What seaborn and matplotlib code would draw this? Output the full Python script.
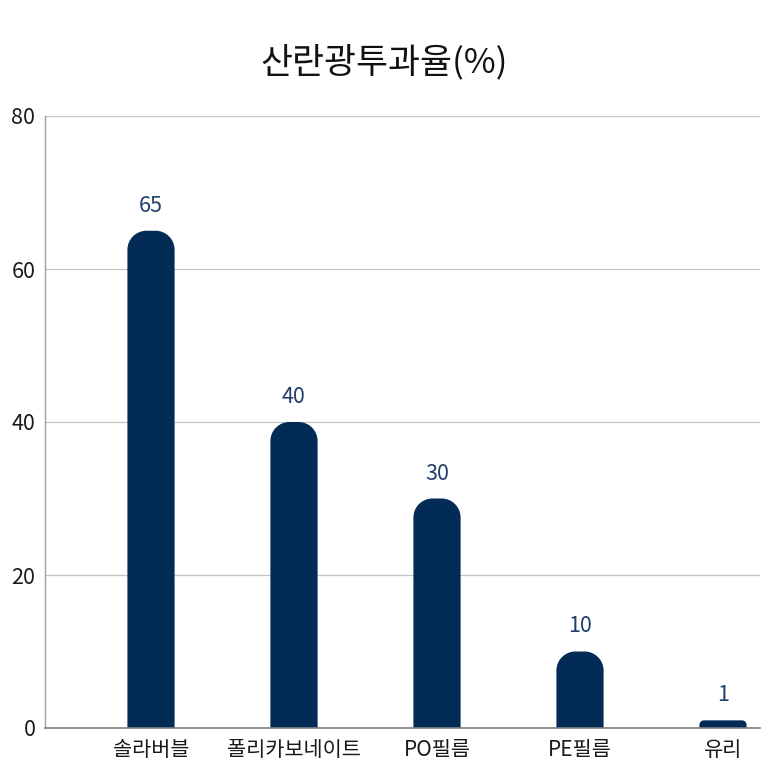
import numpy as np
import pandas as pd
import matplotlib
matplotlib.use("Agg")
import matplotlib.pyplot as plt
from matplotlib.path import Path
from matplotlib.patches import PathPatch
import seaborn as sns

categories = ["솔라버블", "폴리카보네이트", "PO필름", "PE필름", "유리"]
values = [65, 40, 30, 10, 1]
y_ticks = [0, 20, 40, 60, 80]
title = "산란광투과율(%)"

BAR_COLOR = "#022b56"
LABEL_COLOR = "#1d3f6b"

sns.set_theme(style="white")
plt.rcParams["font.family"] = ["Noto Sans CJK KR", "DejaVu Sans"]

W, H, DPI = 768, 768, 100
fig = plt.figure(figsize=(W / DPI, H / DPI), dpi=DPI)
ax_l, ax_r, ax_t, ax_b = 45, 760, 116, 728
ax = fig.add_axes([ax_l / W, 1 - ax_b / H, (ax_r - ax_l) / W, (ax_b - ax_t) / H])

df = pd.DataFrame({"category": categories, "value": values})
sns.barplot(data=df, x="category", y="value", color=BAR_COLOR, width=0.33,
            saturation=1, ax=ax)

px_per_cat = 143.0
x_left = -106.0 / px_per_cat
ax.set_xlim(x_left, x_left + (ax_r - ax_l) / px_per_cat)
ax.set_ylim(0, 80)
ax.set_yticks(y_ticks)
ax.set_xlabel("")
ax.set_ylabel("")

# Rounded-top bars: rebuild each bar patch as a path with top corners rounded
x_unit = 1.0 / px_per_cat            # data units per pixel, x
y_unit = 80.0 / (ax_b - ax_t)        # data units per pixel, y
k = 0.5523
for p in list(ax.patches):
    x0, w, h = p.get_x(), p.get_width(), p.get_height()
    x1 = x0 + w
    h_px = h / y_unit
    r_px = min(19.0, h_px * 0.6)
    rx, ry = r_px * x_unit, r_px * y_unit
    verts = [
        (x0, 0), (x0, h - ry),
        (x0, h - ry + k * ry), (x0 + rx - k * rx, h), (x0 + rx, h),
        (x1 - rx, h),
        (x1 - rx + k * rx, h), (x1, h - ry + k * ry), (x1, h - ry),
        (x1, 0), (x0, 0),
    ]
    codes = [Path.MOVETO, Path.LINETO,
             Path.CURVE4, Path.CURVE4, Path.CURVE4,
             Path.LINETO,
             Path.CURVE4, Path.CURVE4, Path.CURVE4,
             Path.LINETO, Path.CLOSEPOLY]
    ax.add_patch(PathPatch(Path(verts, codes), facecolor=BAR_COLOR,
                           edgecolor="none", zorder=3))
    p.set_visible(False)
    ax.annotate(f"{h:g}", xy=(x0 + w / 2, h), xytext=(0, 18),
                textcoords="offset points", ha="center", va="center",
                fontsize=15.5, color=LABEL_COLOR)

ax.grid(axis="y", color="#c4c4c4", linewidth=0.9, zorder=0)
ax.set_axisbelow(True)
for s in ["top", "right"]:
    ax.spines[s].set_visible(False)
ax.spines["left"].set_color("#a0a0a0")
ax.spines["left"].set_linewidth(1.0)
ax.spines["bottom"].set_color("#808080")
ax.spines["bottom"].set_linewidth(1.2)
ax.spines["left"].set_zorder(4)
ax.spines["bottom"].set_zorder(4)

ax.tick_params(axis="y", length=0, pad=7, labelsize=15.5, labelcolor="#1a1a1a")
ax.tick_params(axis="x", length=0, pad=8, labelsize=15, labelcolor="#1a1a1a")

fig.text(0.5, 1 - 62 / H, title, ha="center", va="center", fontsize=25,
         color="#111111")

fig.savefig("out.png", dpi=DPI, facecolor="white")
